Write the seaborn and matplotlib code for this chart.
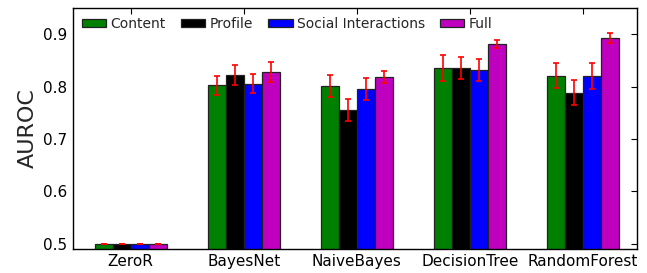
import numpy as np
import pandas as pd
import matplotlib
matplotlib.use("Agg")
import matplotlib.pyplot as plt
import seaborn as sns

# --- data ---
classifiers = ["ZeroR", "BayesNet", "NaiveBayes", "DecisionTree", "RandomForest"]
features = ["Content", "Profile", "Social Interactions", "Full"]

content = [0.500, 0.802, 0.801, 0.836, 0.821]
profile = [0.500, 0.822, 0.756, 0.835, 0.788]
social = [0.500, 0.805, 0.796, 0.832, 0.820]
full = [0.500, 0.827, 0.818, 0.881, 0.893]

content_err = [0.0, 0.018, 0.021, 0.025, 0.024]
profile_err = [0.0, 0.019, 0.021, 0.021, 0.024]
social_err = [0.0, 0.018, 0.021, 0.021, 0.024]
full_err = [0.0, 0.019, 0.012, 0.007, 0.009]

colors = ["#008000", "#000000", "#0000ff", "#bf00bf"]

# --- long table for seaborn ---
vals = [content, profile, social, full]
errs = [content_err, profile_err, social_err, full_err]
df = pd.DataFrame({
    "classifier": classifiers * len(features),
    "feature": [f for f in features for _ in classifiers],
    "auroc": [v for series in vals for v in series],
})

sns.set_style("white")
plt.rcParams["font.family"] = ["DejaVu Sans"]
plt.rcParams["xtick.direction"] = "in"
plt.rcParams["ytick.direction"] = "in"

fig = plt.figure(figsize=(6.47, 2.73), dpi=100)
ax = fig.add_axes([0.113, 0.088, 0.872, 0.883])

sns.barplot(data=df, x="classifier", y="auroc", hue="feature", order=classifiers,
            hue_order=features, palette=colors, width=0.64, edgecolor="#222222",
            linewidth=0.9, errorbar=None, ax=ax, saturation=1)

# error bars at the bar centres seaborn placed
for cont, err in zip(ax.containers, errs):
    xs = [p.get_x() + p.get_width() / 2 for p in cont.patches]
    hs = [p.get_height() for p in cont.patches]
    ax.errorbar(xs, hs, yerr=err, fmt="none", ecolor="red", elinewidth=1.2,
                capsize=2.5, capthick=1.2, zorder=5)

ax.set_ylim(0.49, 0.95)
ax.set_xlim(-0.51, 4.48)
ax.set_yticks([0.5, 0.6, 0.7, 0.8, 0.9])
ax.set_xlabel("")
ax.set_ylabel("AUROC", fontsize=16)
ax.tick_params(axis="both", labelsize=11, length=4, width=0.8,
               top=True, right=True, colors="black")
ax.tick_params(axis="y", pad=4)
for s in ax.spines.values():
    s.set_visible(True)
    s.set_color("black")
    s.set_linewidth(1)

ax.legend(loc="upper left", ncol=4, frameon=False, fontsize=10,
          handlelength=1.75, handleheight=0.6, handletextpad=0.3,
          columnspacing=1.1, borderaxespad=0.25, bbox_to_anchor=(0.0, 1.0))

fig.savefig("out.png", dpi=100)
